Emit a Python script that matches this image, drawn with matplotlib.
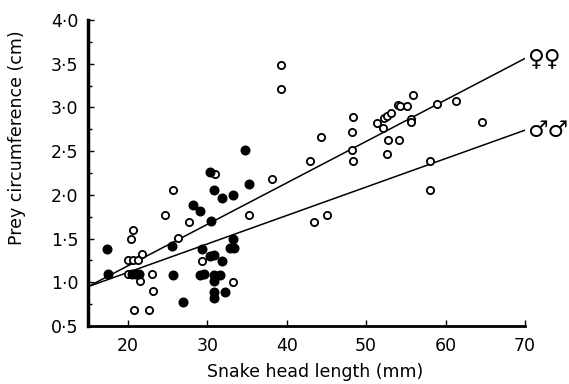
import matplotlib
matplotlib.use("Agg")
import matplotlib.pyplot as plt
from matplotlib.ticker import FixedLocator, FixedFormatter

# Open circles
open_x = [25.7, 24.7, 20.6, 20.4, 26.3, 21.8, 20.0, 20.6, 21.3, 20.0, 23.0, 21.6, 23.2,
          20.8, 22.7, 27.7, 29.3, 33.3, 31.0, 35.2, 38.1,
          39.3, 39.3, 43.0, 44.3, 43.4, 45.1, 48.4, 48.2, 48.2, 48.4,
          51.4, 52.1, 52.2, 52.6, 53.1, 54.0, 54.3, 55.1, 55.9, 55.6, 55.6,
          52.8, 54.1, 52.6, 58.9, 61.3, 64.6, 58.1, 58.0]
open_y = [2.06, 1.77, 1.60, 1.50, 1.51, 1.32, 1.25, 1.25, 1.25, 1.10, 1.09, 1.02, 0.90,
          0.68, 0.68, 1.69, 1.24, 1.00, 2.24, 1.77, 2.18,
          3.49, 3.21, 2.39, 2.66, 1.69, 1.77, 2.89, 2.72, 2.51, 2.39,
          2.82, 2.76, 2.88, 2.90, 2.94, 3.03, 3.02, 3.02, 3.14, 2.87, 2.83,
          2.63, 2.63, 2.47, 3.04, 3.07, 2.83, 2.39, 2.06]

# Filled circles
filled_x = [17.4, 17.5, 20.5, 21.0, 21.4, 25.6, 25.7, 27.0, 34.8, 30.4, 35.2, 30.8,
            31.9, 33.2, 28.2, 29.1, 30.5, 33.2, 32.9, 33.4, 29.3, 30.4, 30.8, 31.8,
            29.1, 29.6, 30.8, 31.6, 30.8, 32.3, 30.8, 30.8]
filled_y = [1.38, 1.09, 1.09, 1.09, 1.09, 1.42, 1.08, 0.78, 2.51, 2.26, 2.12, 2.06,
            1.96, 2.00, 1.88, 1.81, 1.70, 1.50, 1.39, 1.39, 1.38, 1.30, 1.31, 1.24,
            1.08, 1.09, 1.08, 1.08, 1.01, 0.89, 0.89, 0.82]

# Regression lines (endpoints)
line_x = [15, 70]
female_line_y = [0.95, 3.56]
male_line_y = [0.95, 2.74]

x_ticks = [20, 30, 40, 50, 60, 70]
x_tick_labels = ["20", "30", "40", "50", "60", "70"]
y_ticks = [0.5, 1.0, 1.5, 2.0, 2.5, 3.0, 3.5, 4.0]
y_tick_labels = ["0·5", "1·0", "1·5", "2·0", "2·5", "3·0", "3·5", "4·0"]
y_minor = [0.75, 1.25, 1.75, 2.25, 2.75, 3.25, 3.75]

fig = plt.figure(figsize=(5.69, 3.84), dpi=100)
ax = fig.add_axes([0.1547, 0.151, 0.768, 0.797])

ax.plot(line_x, female_line_y, color="black", lw=1.1, zorder=2)
ax.plot(line_x, male_line_y, color="black", lw=1.1, zorder=2)
ax.plot(open_x, open_y, "o", ms=5.2, mfc="white", mec="black", mew=1.3, zorder=3)
ax.plot(filled_x, filled_y, "o", ms=6.2, mfc="black", mec="black", mew=1.0, zorder=4)

ax.set_xlim(15, 70)
ax.set_ylim(0.5, 4.0)
for s in ["top", "right"]:
    ax.spines[s].set_visible(False)
ax.spines["left"].set_linewidth(2.5)
ax.spines["bottom"].set_linewidth(2.0)

ax.xaxis.set_major_locator(FixedLocator(x_ticks))
ax.xaxis.set_major_formatter(FixedFormatter(x_tick_labels))
ax.yaxis.set_major_locator(FixedLocator(y_ticks))
ax.yaxis.set_major_formatter(FixedFormatter(y_tick_labels))
ax.yaxis.set_minor_locator(FixedLocator(y_minor))
ax.tick_params(axis="x", which="major", direction="in", length=4, width=1,
               labelsize=12.5, pad=8)
ax.tick_params(axis="y", which="major", direction="in", length=4, width=1,
               labelsize=12.5, pad=7)
ax.tick_params(axis="y", which="minor", direction="in", length=3, width=1)

ax.set_xlabel("Snake head length (mm)", fontsize=12.5)
ax.set_ylabel("Prey circumference (cm)", fontsize=12.5)
ax.xaxis.set_label_coords(0.52, -0.122)
ax.yaxis.set_label_coords(-0.142, 0.614)

ax.text(70.3, female_line_y[1], "♀♀", fontsize=16.5, ha="left", va="center", clip_on=False)
ax.text(70.3, male_line_y[1], "♂♂", fontsize=16.5, ha="left", va="center", clip_on=False)

fig.savefig("out.png", dpi=100)
